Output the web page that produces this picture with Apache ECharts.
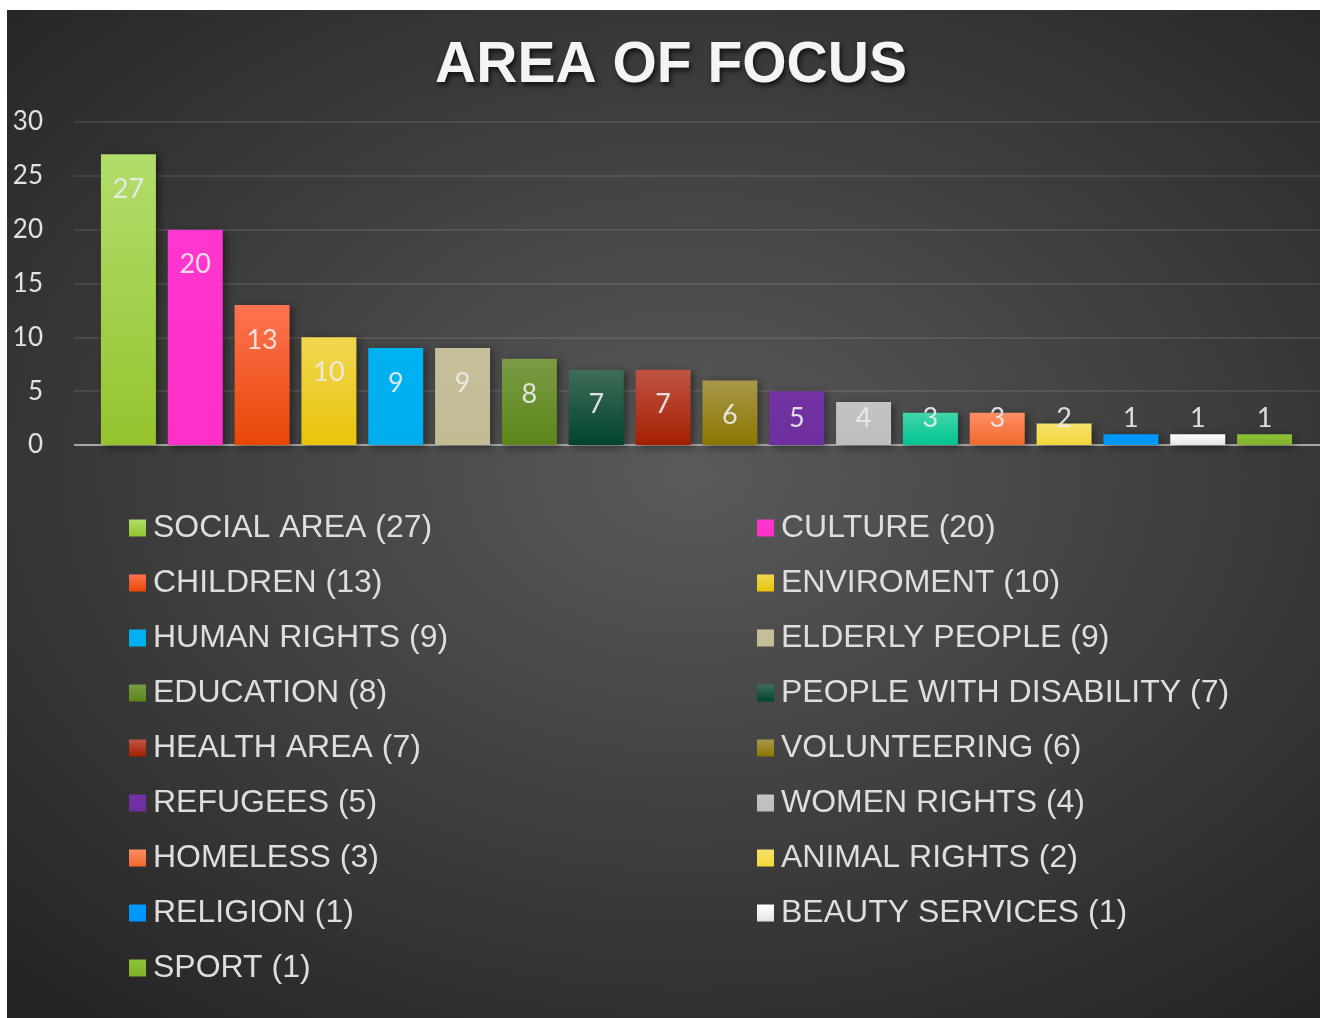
<!DOCTYPE html>
<html>
<head>
<meta charset="utf-8">
<script src="https://cdn.jsdelivr.net/npm/echarts@6/dist/echarts.min.js"></script>
<style>
  html, body { margin: 0; padding: 0; background: #ffffff; }
  #chart {
    position: absolute;
    left: 7px;
    top: 10px;
    width: 1313px;
    height: 1008px;
    background: radial-gradient(ellipse 75% 70% at 52% 46%, #5a5a5a 0%, #474747 35%, #2c2c2c 85%, #242424 100%);
  }
</style>
</head>
<body>
<div id="chart"></div>
<script>
// categories as they appear on the axis (left to right)
const categories = [
  'SOCIAL AREA', 'CULTURE', 'CHILDREN', 'ENVIROMENT', 'HUMAN RIGHTS', 'ELDERLY PEOPLE',
  'EDUCATION', 'PEOPLE WITH DISABILITY', 'HEALTH AREA', 'VOLUNTEERING', 'REFUGEES',
  'WOMEN RIGHTS', 'OTHER', 'HOMELESS', 'ANIMAL RIGHTS', 'RELIGION', 'BEAUTY SERVICES', 'SPORT'
];
const values = [27, 20, 13, 10, 9, 9, 8, 7, 7, 6, 5, 4, 3, 3, 2, 1, 1, 1];
// [top, bottom] colours of each bar
const barColors = [
  ['#b2dd6c', '#95c42e'],
  ['#ff36cf', '#ff30c8'],
  ['#ff7352', '#e84606'],
  ['#f0d752', '#e9c408'],
  ['#00b2f2', '#00aeee'],
  ['#c6bf9a', '#c3bb94'],
  ['#7a9b44', '#5c861a'],
  ['#3f6d58', '#00442d'],
  ['#c05444', '#a41f00'],
  ['#a8984a', '#8c7600'],
  ['#7232a3', '#6e2f9e'],
  ['#c4c4c4', '#bdbdbd'],
  ['#41d6aa', '#00c493'],
  ['#ff8e66', '#f2692c'],
  ['#f3e26a', '#f4d73a'],
  ['#0099ff', '#0096fa'],
  ['#ffffff', '#e4e4e4'],
  ['#8cc23a', '#80b228']
];
// legend columns (indices into categories)
const legendLeft = [0, 2, 4, 6, 8, 10, 13, 15, 17];
const legendRight = [1, 3, 5, 7, 9, 11, 14, 16];
const yTicks = [0, 5, 10, 15, 20, 25, 30];

const names = categories.map((c, i) => c + ' (' + values[i] + ')');

const chart = echarts.init(document.getElementById('chart'));

const series = categories.map((c, i) => {
  const small = values[i] <= 5;
  return {
    name: names[i],
    type: 'bar',
    xAxisIndex: 1,
    yAxisIndex: 1,
    stack: 'all',
    barWidth: 55,
    data: values.map((v, j) => (j === i ? v : '-')),
    itemStyle: {
      color: new echarts.graphic.LinearGradient(0, 0, 0, 1, [
        { offset: 0, color: barColors[i][0] },
        { offset: 1, color: barColors[i][1] }
      ]),
      shadowColor: 'rgba(0,0,0,0.45)',
      shadowBlur: 8,
      shadowOffsetX: 3,
      shadowOffsetY: 2
    },
    label: {
      show: true,
      position: small ? 'insideBottom' : 'insideTop',
      distance: small ? 14 : 22,
      color: 'rgba(235,235,235,0.92)',
      fontFamily: 'Lato',
      fontSize: 27,
      lineHeight: 26
    },
    emphasis: { disabled: true }
  };
});

const legendBase = {
  orient: 'vertical',
  top: 502,
  padding: 0,
  itemWidth: 17,
  itemHeight: 17,
  itemGap: 23,
  icon: 'rect',
  selectedMode: false,
  textStyle: {
    color: '#dedede',
    fontFamily: 'Liberation Sans',
    fontSize: 32,
    lineHeight: 32,
    padding: [0, 0, 0, 2]
  }
};

chart.setOption({
  backgroundColor: 'transparent',
  animation: false,
  title: {
    text: 'AREA OF FOCUS',
    left: 664,
    textAlign: 'center',
    top: 28,
    padding: 0,
    textStyle: {
      color: '#f4f4f4',
      fontFamily: 'Liberation Sans',
      fontWeight: 'bold',
      fontSize: 57,
      textShadowColor: 'rgba(0,0,0,0.7)',
      textShadowBlur: 5,
      textShadowOffsetX: 2,
      textShadowOffsetY: 3
    }
  },
  legend: [
    Object.assign({}, legendBase, { left: 122, data: legendLeft.map(i => names[i]) }),
    Object.assign({}, legendBase, { left: 750, data: legendRight.map(i => names[i]) })
  ],
  grid: [
    { left: 67, right: 0, top: 112, bottom: 573 },
    { left: 88, right: 22, top: 112, bottom: 573 }
  ],
  xAxis: [
    { type: 'value', gridIndex: 0, min: 0, max: 1, show: false },
    {
      type: 'category', gridIndex: 1, data: categories,
      axisLine: { show: false }, axisTick: { show: false }, axisLabel: { show: false }
    }
  ],
  yAxis: [
    {
      type: 'value', gridIndex: 0, min: 0, max: 30, interval: 5,
      axisLine: { show: false }, axisTick: { show: false },
      axisLabel: {
        color: '#e2e2e2', fontFamily: 'Lato', fontSize: 26, margin: 31,
        formatter: v => (yTicks.indexOf(v) >= 0 ? String(v) : '')
      },
      splitLine: {
        lineStyle: {
          color: ['#a9a9a9', 'rgba(255,255,255,0.09)', 'rgba(255,255,255,0.09)', 'rgba(255,255,255,0.09)',
                  'rgba(255,255,255,0.09)', 'rgba(255,255,255,0.09)', 'rgba(255,255,255,0.09)'],
          width: 2
        }
      }
    },
    {
      type: 'value', gridIndex: 1, min: 0, max: 30, interval: 5, show: false
    }
  ],
  series: series
});
</script>
</body>
</html>
